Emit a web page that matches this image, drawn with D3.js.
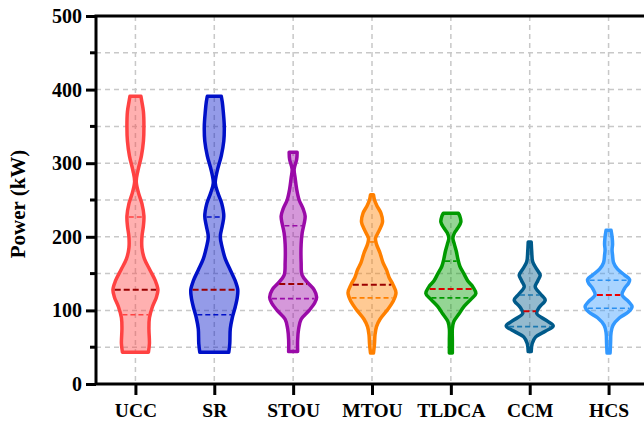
<!DOCTYPE html>
<html>
<head>
<meta charset="utf-8">
<script src="https://cdn.jsdelivr.net/npm/d3@7"></script>
<style>
  html, body { margin: 0; padding: 0; background: #fff; overflow: hidden; }
  svg { display: block; }
  text { font-family: "Liberation Serif", "Times New Roman", serif; font-weight: bold; }
</style>
</head>
<body>
<svg id="chart" width="644" height="425"></svg>
<script>
// Strategy names along the x axis
const categories = ["UCC", "SR", "STOU", "MTOU", "TLDCA", "CCM", "HCS"];

// Kernel-density profiles: [power kW, half-width density] from bottom to top
const densityUCC = [[43,13],[55,14],[75,13.5],[90,14],[105,17],[118,21],[128,22.5],[140,20],[155,14.5],[170,9],[185,6.5],[200,6.5],[215,8],[228,8.5],[245,6.5],[260,3],[275,0.8],[290,2.5],[310,6],[330,8],[350,8.5],[370,8],[383,6.5],[391,5.5]];
const densitySR = [[43,14.5],[55,15.5],[75,16],[90,18],[105,21],[118,23],[128,23.5],[140,21],[155,16],[170,11],[185,8],[200,6],[215,8],[228,9.5],[245,7.5],[260,3.5],[273,1],[290,3],[310,7],[330,9.5],[350,10],[370,9],[383,8],[391,7]];
const densitySTOU = [[44,4.5],[60,4.5],[75,5.5],[88,8],[100,16],[110,21.5],[118,23.5],[128,21],[137,15],[148,9],[165,8],[190,8],[205,9],[218,11],[228,12],[238,10],[250,6],[265,3.5],[280,2],[292,1],[305,3.5],[315,4]];
const densityMTOU = [[42,1.5],[55,2.5],[67,3],[78,4.5],[88,8],[100,15],[112,21],[124,24],[135,21],[145,17],[155,14.5],[165,11],[178,8],[190,4.5],[198,3.5],[208,7],[220,10.5],[232,9],[242,5],[250,2.5],[257,1.5]];
const densityTLDCA = [[42,1.5],[60,1.5],[75,1.5],[85,3],[95,8],[105,13],[115,20],[123,25],[132,22],[140,17],[150,13],[160,9],[170,7],[180,5.5],[190,3.5],[198,2],[205,3.5],[212,7],[220,10],[228,9],[232,7.5]];
const densityCCM = [[44,1.5],[55,2.5],[64,6],[72,16],[79,23.5],[86,17],[96,7],[105,10],[114,15.5],[122,11],[132,5.5],[140,8],[148,10.5],[156,7],[166,3],[180,2],[193,1.5]];
const densityHCS = [[42,1.5],[55,2],[70,2.5],[80,4.5],[90,11],[98,20],[105,23.5],[112,20],[121,13.5],[130,16],[137,20],[142,21],[148,16],[156,9],[165,5],[175,4],[182,3.5],[190,4],[200,3.5],[209,2.5]];
const densities = [densityUCC, densitySR, densitySTOU, densityMTOU, densityTLDCA, densityCCM, densityHCS];

// Quartiles (kW)
const q1Values = [94, 94, 116, 117, 117, 78, 103];
const medianValues = [128, 128, 136, 135, 129, 99, 121];
const q3Values = [227, 227, 215, 193, 167, 121, 141];

// Y axis ticks
const majorTicks = [0, 100, 200, 300, 400, 500];
const minorTicks = [50, 150, 250, 350, 450];

const strokeColors = ["#ff4242", "#0010c8", "#9a0aa8", "#ff8000", "#009a00", "#005a8a", "#3399ff"];
const quartileColors = ["#ff4242", "#0010c8", "#9a0aa8", "#ff8000", "#009a00", "#1a78b0", "#2a8ff0"];
const medianColors = ["#9a0000", "#9a0000", "#9a0000", "#9a0000", "#dd0000", "#d00000", "#ee0000"];

const svg = d3.select("#chart");
const plot = { left: 96, right: 648, top: 16, bottom: 384 };

const x = d3.scalePoint().domain(categories).range([plot.left, plot.right]).padding(0.5);
const y = d3.scaleLinear().domain([0, 500]).range([plot.bottom, plot.top]);
const w = d3.scaleLinear().domain([0, 25]).range([0, 25]);

// Grid
const grid = svg.append("g").attr("stroke", "#c8c8c8").attr("stroke-width", 1.5).attr("stroke-dasharray", "5,4");
grid.selectAll("line.h").data(majorTicks.concat(minorTicks).filter(v => v > 0 && v < 500))
  .join("line").attr("class", "h")
  .attr("x1", plot.left).attr("x2", plot.right)
  .attr("y1", d => y(d)).attr("y2", d => y(d));
grid.selectAll("line.v").data(categories)
  .join("line").attr("class", "v")
  .attr("x1", d => x(d)).attr("x2", d => x(d))
  .attr("y1", plot.top).attr("y2", plot.bottom);

// Interpolated half-width at a given value
function halfWidthAt(profile, v) {
  for (let i = 0; i < profile.length - 1; i++) {
    const [a, wa] = profile[i], [b, wb] = profile[i + 1];
    if (v >= a && v <= b) return wa + (wb - wa) * (v - a) / (b - a);
  }
  return 0;
}

const area = d3.area()
  .curve(d3.curveCatmullRom.alpha(0.5))
  .y(d => y(d[0]));

categories.forEach((cat, i) => {
  const cx = x(cat);
  const g = svg.append("g");
  const prof = densities[i];
  g.append("path")
    .datum(prof)
    .attr("d", area.x0(d => cx - w(d[1])).x1(d => cx + w(d[1])))
    .attr("fill", strokeColors[i])
    .attr("fill-opacity", 0.42)
    .attr("stroke", strokeColors[i])
    .attr("stroke-width", 3.5)
    .attr("stroke-linejoin", "round");

  const lines = [
    { v: q1Values[i], color: quartileColors[i], width: 1.6, dash: "5,3" },
    { v: q3Values[i], color: quartileColors[i], width: 1.6, dash: "5,3" },
    { v: medianValues[i], color: medianColors[i], width: 2, dash: "6,3" }
  ];
  g.selectAll("line").data(lines).join("line")
    .attr("x1", d => cx - Math.max(0, w(halfWidthAt(prof, d.v)) - 1.8))
    .attr("x2", d => cx + Math.max(0, w(halfWidthAt(prof, d.v)) - 1.8))
    .attr("y1", d => y(d.v)).attr("y2", d => y(d.v))
    .attr("stroke", d => d.color)
    .attr("stroke-width", d => d.width)
    .attr("stroke-dasharray", d => d.dash);
});

// Axes
const yAxis = d3.axisLeft(y).tickValues(majorTicks).tickSize(10).tickPadding(4).tickFormat(d3.format("d"));
const yg = svg.append("g").attr("transform", `translate(${plot.left},0)`).call(yAxis);
yg.select(".domain").remove();
yg.selectAll(".tick line").attr("stroke", "#000").attr("stroke-width", 3);
yg.selectAll(".tick text").attr("font-size", 20).attr("fill", "#000")
  .style("font-family", "'Liberation Serif', serif").style("font-weight", "bold");
yg.selectAll("line.minor").data(minorTicks).join("line").attr("class", "minor")
  .attr("x1", -6).attr("x2", 0).attr("y1", d => y(d)).attr("y2", d => y(d))
  .attr("stroke", "#000").attr("stroke-width", 3);

const xAxis = d3.axisBottom(x).tickSize(11).tickPadding(8);
const xg = svg.append("g").attr("transform", `translate(0,${plot.bottom})`).call(xAxis);
xg.select(".domain").remove();
xg.selectAll(".tick line").attr("stroke", "#000").attr("stroke-width", 3);
xg.selectAll(".tick text").attr("font-size", 19.5).attr("fill", "#000")
  .style("font-family", "'Liberation Serif', serif").style("font-weight", "bold");

// Frame
const frame = svg.append("g").attr("stroke", "#000").attr("stroke-width", 3).attr("fill", "none");
frame.append("path")
  .attr("d", `M${plot.left},${plot.top}H${plot.right}V${plot.bottom}H${plot.left}Z`)
  .attr("stroke-linejoin", "miter");

// Y axis title
svg.append("text")
  .attr("transform", `translate(25,${(plot.top + plot.bottom) / 2 + 4}) rotate(-90)`)
  .attr("text-anchor", "middle")
  .attr("font-size", 21)
  .text("Power (kW)");
</script>
</body>
</html>
